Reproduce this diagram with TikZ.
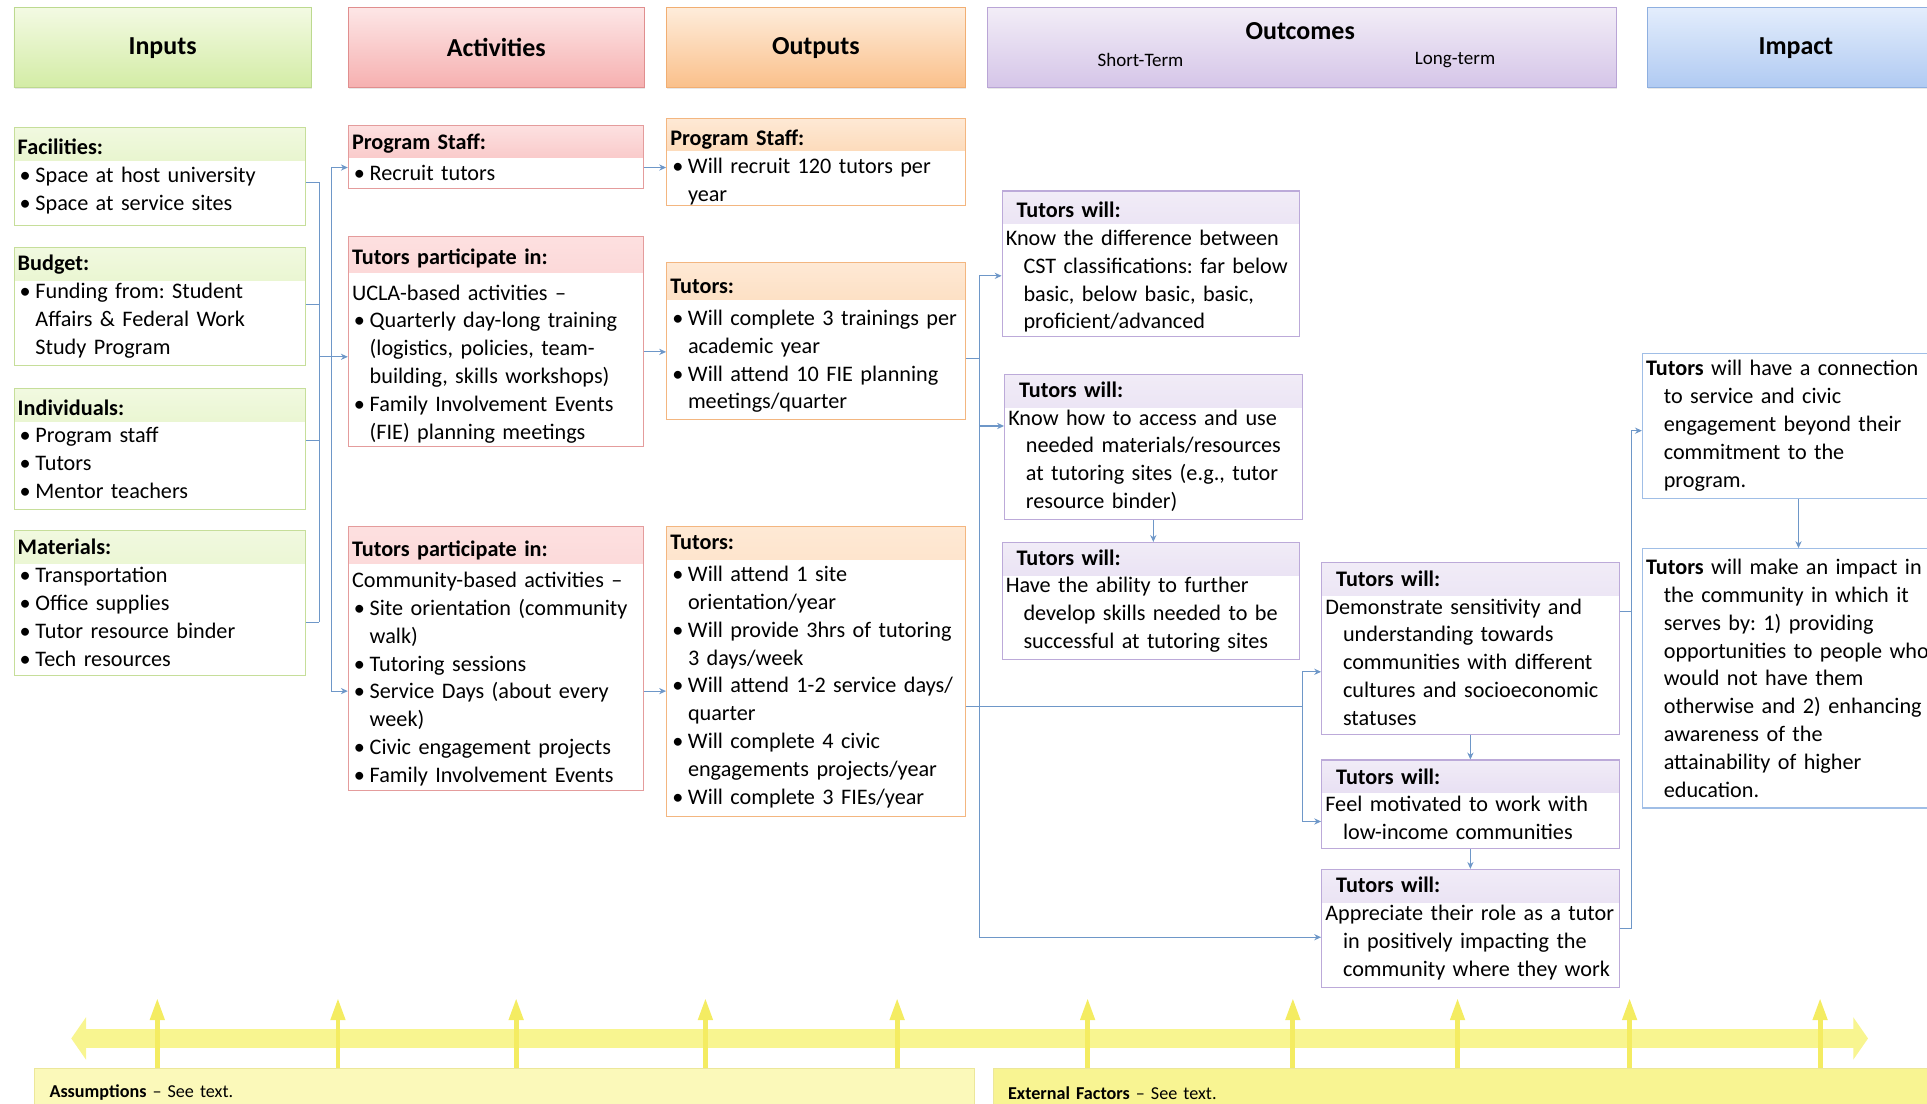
\documentclass[tikz,border=0pt]{standalone}
\usepackage{fontspec}
\setmainfont{Carlito}
\usetikzlibrary{arrows.meta,shadows}
\frenchspacing
\hyphenpenalty=10000
\exhyphenpenalty=10000

% colours of the column heads
\definecolor{hgtop}{HTML}{F3FAE3}\definecolor{hgbot}{HTML}{D3ECA5}\definecolor{hgline}{HTML}{BCD98F}
\definecolor{hrtop}{HTML}{FDE6E6}\definecolor{hrbot}{HTML}{F6B0B0}\definecolor{hrline}{HTML}{E08E8E}
\definecolor{hotop}{HTML}{FEECDA}\definecolor{hobot}{HTML}{FAC08A}\definecolor{holine}{HTML}{F1AE72}
\definecolor{hptop}{HTML}{F2EDF7}\definecolor{hpbot}{HTML}{D5C5E8}\definecolor{hpline}{HTML}{B9A5D6}
\definecolor{hbtop}{HTML}{E3EDFC}\definecolor{hbbot}{HTML}{B0CAF2}\definecolor{hbline}{HTML}{8EAFE0}
% colours of the small boxes
\definecolor{gtop}{HTML}{F1F9E0}\definecolor{gbot}{HTML}{D8EEAE}\definecolor{gedge}{HTML}{C6DE9A}
\definecolor{rtop}{HTML}{FDE0E0}\definecolor{rbot}{HTML}{F6B6B6}\definecolor{redge}{HTML}{E49C9C}
\definecolor{otop}{HTML}{FEE9D5}\definecolor{obot}{HTML}{FAC490}\definecolor{oedge}{HTML}{F3B680}
\definecolor{ptop}{HTML}{F1ECF7}\definecolor{pbot}{HTML}{D9CCEC}\definecolor{pedge}{HTML}{BCAAD9}
\definecolor{bedge}{HTML}{A0BEE6}
\definecolor{linkblue}{HTML}{6E97C8}
% yellows at the bottom
\definecolor{ybarc}{HTML}{F8F590}\definecolor{ytickc}{HTML}{F4EC62}
\definecolor{yass}{HTML}{FBF9BA}\definecolor{yext}{HTML}{F8F492}\definecolor{yedge}{HTML}{ECE79A}

\newcommand{\pbul}{\makebox[0.36cm][l]{\hspace{0.04cm}\textbullet}}
\newcommand{\pind}{\hspace*{0.36cm}}
\newcommand{\hdstrut}[1]{\rule{0pt}{#1}}

\tikzset{
  colhead/.style={draw=h#1line, top color=h#1top, bottom color=h#1bot, anchor=north west,
    minimum height=1.625cm, font=\fontsize{15}{18}\selectfont\bfseries,
    drop shadow={opacity=0.18, shadow xshift=0.5pt, shadow yshift=-0.8pt}},
  band/.style 2 args={path picture={\fill[top color=#1top, bottom color=#1bot]
    (path picture bounding box.north west) rectangle ([yshift=-#2]path picture bounding box.north east);}},
  sub/.style={fill=white, anchor=north west, align=left, inner xsep=0.075cm, inner ysep=0.05cm,
    line width=0.6pt, font=\fontsize{12.85}{16.1}\selectfont,
    execute at begin node={\rightskip=0pt plus 1fil minus 0.6cm\relax}},
  inbox/.style={sub, draw=gedge, text width=5.775cm, band={g}{#1}}, inbox/.default=0.67cm,
  actbox/.style={sub, draw=redge, text width=5.85cm, band={r}{#1}}, actbox/.default=0.7cm,
  outbox/.style={sub, draw=oedge, text width=5.925cm, band={o}{#1}}, outbox/.default=0.7cm,
  ocbox/.style={sub, draw=pedge, text width=5.9cm, band={p}{#1}}, ocbox/.default=0.67cm,
  impbox/.style={sub, draw=bedge, text width=6.2cm},
  link/.style={draw=linkblue, line width=0.6pt},
  linkar/.style={link, -{Stealth[length=4pt, width=3.6pt]}},
  yellowbox/.style={draw=yedge, anchor=north west, text width=#1, align=left, inner xsep=0.3cm,
    minimum height=1cm, font=\fontsize{10.5}{12.5}\selectfont},
}

\begin{document}
\begin{tikzpicture}[x=0.025cm, y=-0.025cm]
    \useasboundingbox (0,0) rectangle (1568,898);
    \clip (0,0) rectangle (1568,898);

    % column heads
    \node[colhead=g, minimum width=6.05cm] (inhead) at (11,6) {Inputs};
    \node[colhead=r, minimum width=6.025cm] (acthead) at (283,6) {Activities};
    \node[colhead=o, minimum width=6.075cm] (outhead) at (542,6) {Outputs};
    \node[colhead=p, minimum width=12.8cm] (ochead) at (803,6) {};
    \node[font=\fontsize{15}{18}\selectfont\bfseries] (octitle) at (1058,25) {Outcomes};
    \node[font=\fontsize{11}{13}\selectfont] (ocshort) at (928,49) {Short-Term};
    \node[font=\fontsize{11}{13}\selectfont] (oclong) at (1184,49) {Long-term};
    \node[colhead=b, minimum width=6.05cm] (imphead) at (1340,6) {Impact};

    % inputs
    \node[inbox, minimum height=2cm] (fac) at (11,103) {{\bfseries Facilities:}\\ \pbul Space at host university\\ \pbul Space at service sites};
    \node[inbox, minimum height=2.4cm] (bud) at (11,201) {{\bfseries Budget:}\\ \pbul Funding from: Student\\ \pind Affairs \& Federal Work\\ \pind Study Program};
    \node[inbox, minimum height=2.45cm] (ind) at (11,316) {{\bfseries Individuals:}\\ \pbul Program staff\\ \pbul Tutors\\ \pbul Mentor teachers};
    \node[inbox, minimum height=2.95cm] (mat) at (11,431) {{\bfseries Materials:}\\ \pbul Transportation\\ \pbul Office supplies\\ \pbul Tutor resource binder\\ \pbul Tech resources};

    % activities
    \node[actbox=0.65cm, minimum height=1.275cm] (psa) at (283,102) {{\bfseries Program Staff:}\\[0.07cm] \pbul Recruit tutors};
    \node[actbox=0.73cm, minimum height=4.275cm] (ucla) at (283,192) {\hdstrut{0.5cm}{\bfseries Tutors participate in:}\\[0.15cm] UCLA-based activities --\\ \pbul Quarterly day-long training\\ \pind (logistics, policies, team-\\ \pind building, skills workshops)\\ \pbul Family Involvement Events\\ \pind (FIE) planning meetings};
    \node[actbox=0.75cm, minimum height=5.375cm] (comm) at (283,428) {\hdstrut{0.52cm}{\bfseries Tutors participate in:}\\[0.06cm] Community-based activities --\\ \pbul Site orientation (community\\ \pind walk)\\ \pbul Tutoring sessions\\ \pbul Service Days (about every\\ \pind week)\\ \pbul Civic engagement projects\\ \pbul Family Involvement Events};

    % outputs
    \node[outbox=0.65cm, minimum height=1.775cm, inner ysep=0pt] (pso) at (542,96) {\hdstrut{0.45cm}{\bfseries Program Staff:}\\ \pbul Will recruit 120 tutors per\\ \pind\smash{year}};
    \node[outbox=0.75cm, minimum height=3.2cm] (tut1) at (542,213) {\hdstrut{0.5cm}{\bfseries Tutors:}\\[0.08cm] \pbul Will complete 3 trainings per\\ \pind academic year\\ \pbul Will attend 10 FIE planning\\ \pind meetings/quarter};
    \node[outbox=0.68cm, minimum height=5.9cm] (tut2) at (542,428) {{\bfseries Tutors:}\\[0.08cm] \pbul Will attend 1 site\\ \pind orientation/year\\ \pbul Will provide 3hrs of tutoring\\ \pind 3 days/week\\ \pbul Will attend 1-2 service days/\\ \pind quarter\\ \pbul Will complete 4 civic\\ \pind engagements projects/year\\ \pbul Will complete 3 FIEs/year};

    % outcomes, short-term
    \node[ocbox, minimum height=2.95cm] (cst) at (815,155) {\hdstrut{0.47cm}\hspace*{0.22cm}{\bfseries Tutors will:}\\ Know the difference between\\ \pind CST classifications: far below\\ \pind basic, below basic, basic,\\ \pind proficient/advanced};
    \node[ocbox, minimum height=2.95cm] (acc) at (817,304) {\hspace*{0.22cm}{\bfseries Tutors will:}\\ Know how to access and use\\ \pind needed materials/resources\\ \pind at tutoring sites (e.g., tutor\\ \pind resource binder)};
    \node[ocbox, minimum height=2.375cm] (abil) at (815,441) {\hspace*{0.22cm}{\bfseries Tutors will:}\\ Have the ability to further\\ \pind develop skills needed to be\\ \pind successful at tutoring sites};

    % outcomes, long-term
    \node[ocbox, minimum height=3.5cm] (dem) at (1075,457) {\hspace*{0.22cm}{\bfseries Tutors will:}\\ Demonstrate sensitivity and\\ \pind understanding towards\\ \pind communities with different\\ \pind cultures and socioeconomic\\ \pind statuses};
    \node[ocbox, minimum height=1.8cm] (feel) at (1075,618) {\hspace*{0.22cm}{\bfseries Tutors will:}\\ Feel motivated to work with\\ \pind low-income communities};
    \node[ocbox, minimum height=2.4cm] (appr) at (1075,707) {\hspace*{0.22cm}{\bfseries Tutors will:}\\ Appreciate their role as a tutor\\ \pind in positively impacting the\\ \pind community where they work};

    % impact
    \node[impbox, minimum height=2.95cm] (imp1) at (1336,287) {{\bfseries Tutors} will have a connection\\ \pind to service and civic\\ \pind engagement beyond their\\ \pind commitment to the\\ \pind program.};
    \node[impbox, minimum height=5.275cm] (imp2) at (1336,446) {{\bfseries Tutors} will make an impact in\\ \pind the community in which it\\ \pind serves by: 1) providing\\ \pind opportunities to people who\\ \pind would not have them\\ \pind otherwise and 2) enhancing\\ \pind awareness of the\\ \pind attainability of higher\\ \pind education.};

    % inputs to activities
    \draw[link] ([yshift=-0.12cm]fac.east) -- ++(11,0) coordinate (bus1top);
    \draw[link] ([yshift=0.05cm]bud.east) -- ++(11,0);
    \draw[link] ([yshift=0.17cm]ind.east) -- ++(11,0);
    \draw[link] ([yshift=-0.4cm]mat.east) -- ++(11,0) coordinate (bus1bot);
    \draw[link] (bus1top) -- (bus1bot);
    \draw[linkar] ([yshift=-0.31cm]ucla.west -| bus1top) -- ([yshift=-0.31cm]ucla.west);
    \draw[linkar] ([yshift=-0.31cm]ucla.west -| bus1top) -- ++(10,0) |- ([yshift=-0.21cm]psa.west);
    \draw[linkar] ([yshift=-0.31cm]ucla.west -| bus1top) -- ++(10,0) |- ([yshift=-0.66cm]comm.west);

    % activities to outputs
    \draw[linkar] ([yshift=-0.21cm]psa.east) -- ([yshift=-0.21cm]psa.east -| pso.west);
    \draw[linkar] ([yshift=-0.21cm]ucla.east) -- ([yshift=-0.21cm]ucla.east -| tut1.west);
    \draw[linkar] ([yshift=-0.66cm]comm.east) -- ([yshift=-0.66cm]comm.east -| tut2.west);

    % outputs to outcomes
    \draw[link] ([yshift=-0.35cm]tut1.east) -- ++(11,0) coordinate (bus3);
    \draw[linkar] (bus3) |- ([yshift=-0.25cm]cst.west);
    \draw[linkar] (bus3) |- ([yshift=0.42cm]acc.west);
    \draw[linkar] (bus3) |- ([yshift=-0.18cm]appr.west);
    \draw[link] ([yshift=-0.72cm]tut2.east) -- ([xshift=-0.375cm, yshift=-0.72cm]tut2.east -| dem.west) coordinate (bus4);
    \draw[linkar] (bus4) |- ([yshift=-0.48cm]dem.west);
    \draw[linkar] (bus4) |- ([yshift=-0.35cm]feel.west);

    % inside the outcomes
    \draw[linkar] (acc.south) -- (acc.south |- abil.north);
    \draw[linkar] (dem.south) -- (feel.north);
    \draw[linkar] (feel.south) -- (appr.north);

    % outcomes to impact
    \draw[link] ([yshift=0.75cm]dem.east) -- ++(10,0);
    \draw[link] (appr.east) -- ++(10,0) coordinate (bus5);
    \draw[linkar] (bus5) |- ([yshift=-0.1cm]imp1.west);
    \draw[linkar] (imp1.south) -- (imp2.north);

    % the yellow arrows at the bottom
    \draw[ybarc, line width=0.4cm, {Triangle[length=0.3cm, width=0.85cm]}-{Triangle[length=0.3cm, width=0.85cm]}] (58,845) -- (1520,845);
    \foreach \x in {128,275,420,574,730,885,1052,1186,1326,1481}
        \draw[ytickc, line width=0.1cm, -{Triangle[length=0.45cm, width=0.28cm]}] (\x,870) -- (\x,812);

    % assumptions and external factors
    \node[yellowbox=18.5cm, fill=yass] (assum) at (28,869) {{\bfseries Assumptions} -- See text.};
    \node[yellowbox=18.9cm, fill=yext] (extf) at (808,869) {{\bfseries External Factors} -- See text.};
\end{tikzpicture}
\end{document}
